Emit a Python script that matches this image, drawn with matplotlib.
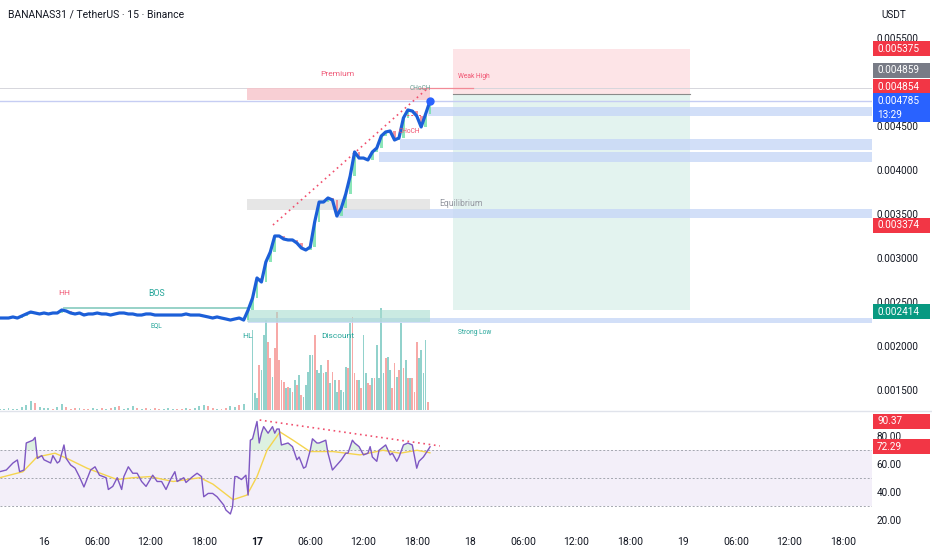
import matplotlib
matplotlib.use('Agg')
import matplotlib.pyplot as plt
import numpy as np
from matplotlib.patches import Rectangle
from matplotlib.lines import Line2D
from matplotlib.transforms import IdentityTransform

plt.rcParams['font.family'] = ['Roboto', 'DejaVu Sans']

# ---- data (time in hours from 16th 00:00) ----
close = [0.002318, 0.002318, 0.002318, 0.002330, 0.002318, 0.002341, 0.002364, 0.002386,
         0.002375, 0.002364, 0.002375, 0.002364, 0.002375, 0.002375, 0.002409, 0.002398,
         0.002375, 0.002364, 0.002375, 0.002352, 0.002364, 0.002364, 0.002375, 0.002364,
         0.002364, 0.002352, 0.002364, 0.002375, 0.002375, 0.002364, 0.002364, 0.002352,
         0.002352, 0.002364, 0.002364, 0.002352, 0.002352, 0.002352, 0.002352, 0.002352,
         0.002352, 0.002352, 0.002364, 0.002352, 0.002352, 0.002352, 0.002341, 0.002330,
         0.002318, 0.002330, 0.002318, 0.002307, 0.002295, 0.002307, 0.002318, 0.002295,
         0.002409, 0.002545, 0.002773, 0.002727, 0.002955, 0.003068, 0.003250, 0.003250,
         0.003216, 0.003205, 0.003205, 0.003170, 0.003114, 0.003091, 0.003125, 0.003409,
         0.003636, 0.003636, 0.003682, 0.003659, 0.003477, 0.003568, 0.003727, 0.003932,
         0.004205, 0.004136, 0.004136, 0.004114, 0.004205, 0.004250, 0.004386, 0.004432,
         0.004443, 0.004341, 0.004364, 0.004591, 0.004682, 0.004670, 0.004614, 0.004489,
         0.004636, 0.004785]
price_start, price_step = -5.0, 0.5

vol_flat = [1, 1, 2, 1, 1, 3, 5, 9, 7, 3, 2, 2, 1, 3, 6, 3, 1, 2, 2, 1, 1, 2, 1, 2, 1, 2, 3, 4,
            1, 2, 4, 2, 1, 2, 1, 2, 1, 1, 2, 1, 1, 1, 2, 1, 2, 4, 5, 4, 2, 1, 1, 2, 4, 3, 5, 6]
vol_flat_dir = "ggggggggrgggrggrrrgrrggrgrgrgggrgrgrrgggrrgrgggrrgrrggrg"
vol_pump = [80, 17, 12, 45, 40, 75, 90, 68, 52, 33,
            62, 98, 50, 30, 28, 22, 23, 22, 18, 30,
            25, 35, 15, 13, 25, 38, 55, 55, 75, 40,
            37, 45, 37, 38, 50, 27, 38, 30, 18, 30,
            20, 18, 43, 42, 87, 93, 37, 30, 30, 22,
            75, 37, 27, 25, 32, 32, 65, 32, 102, 37,
            52, 53, 40, 22, 47, 33, 40, 87, 42, 50,
            32, 32, 32, 18, 68, 52, 60, 37, 70, 8]
vol_pump_dir = ("gggrgggrrg" "rrrrrgrgrg" "rgrgggggrg" "ggrgrgrggr"
                "gggrgrrrgr" "ggrrgrgggg" "rggrrgrgrg" "rgrrrggggr")
vol_pump_start = 23.5

rsi_t = [-5.0, -4.25, -3.5, -3.0, -2.75, -2.25, -2.0, -1.25, -1.0, -0.75, -0.25, 0.0, 0.75, 1.0,
         1.5, 1.75, 2.25, 2.5, 3.0, 3.5, 4.0, 4.5, 5.25, 5.75, 6.25, 7.0, 7.25, 7.75, 8.25, 8.75,
         9.0, 9.5, 10.0, 10.5, 11.0, 11.5, 12.25, 12.75, 13.25, 13.75, 14.25, 14.75, 15.0, 15.75,
         16.0, 16.75, 17.25, 17.75, 18.0, 18.5, 19.0, 19.5, 20.25, 20.5, 21.0, 21.25, 21.5, 21.75,
         22.25, 22.75, 23.0, 23.25, 23.5, 24.0, 24.25, 24.5, 24.75, 25.25, 25.75, 26.0, 26.25,
         26.5, 26.75, 27.5, 28.0, 28.5, 28.75, 29.25, 29.5, 30.0, 30.25, 30.75, 31.0, 31.75, 32.0,
         32.5, 33.0, 33.5, 34.0, 34.25, 34.75, 35.0, 35.5, 36.0, 36.5, 36.75, 37.0, 37.5, 37.75,
         38.5, 39.0, 39.25, 39.75, 40.0, 40.5, 41.0, 41.5, 42.0, 42.25, 42.75, 43.25, 43.5]
rsi = [54.5, 55.7, 60.7, 62.9, 54.5, 55.7, 75, 77, 79, 64, 66, 63, 60.7, 66,
       60.7, 61.9, 73.6, 64, 59.3, 57, 50.8, 43.6, 55.7, 58, 52, 50.2, 41.8, 44, 50.2, 41.8,
       51, 58, 53.4, 53.4, 47.5, 44, 52, 47.5, 47.5, 41.8, 48.9, 54.5, 47.5, 50.2,
       46.8, 51, 53.4, 51, 36.6, 39, 39, 36.6, 30.7, 27.1, 24.3, 29.6, 51, 51,
       48.9, 52, 37.8, 77, 78, 90.37, 75, 82, 86.7, 82, 86.7, 82, 85,
       85, 73.6, 75, 72.4, 63, 65, 57, 58, 69.8, 78, 75, 75, 77, 67.7,
       55.7, 59.3, 62.9, 67.7, 67.7, 77, 75, 72.4, 66.5, 67.7, 72.4, 65, 61.9, 69.8,
       73.6, 66.5, 67.7, 61.9, 65, 73.6, 75, 73.6, 57, 61.9, 65, 69.8, 72.29]
rsi_ma_t = [-5.0, -2.37, -0.79, 1.24, 2.59, 4.85, 8.23, 10.03, 11.94, 14.54, 17.58, 19.04,
            21.3, 22.87, 24.0, 25.13, 26.59, 28.06, 29.97, 32.56, 35.6, 38.2, 40.11, 42.03, 43.49]
rsi_ma = [50.2, 54.5, 65, 67.7, 64, 57, 48.9, 50.2, 51, 47.5, 50.2, 45.6,
          34.5, 37.8, 51, 69.8, 82.9, 77, 68.9, 68.9, 66.5, 69.8, 67.7, 69.8, 68]

# zones: (low, high)
premium = (0.004795, 0.004932)
equilibrium = (0.003545, 0.003671)
discount = (0.002273, 0.002409)
zone_span = (22.9, 43.5)
ob_lo = [0.004614, 0.004227, 0.004091, 0.003455, 0.002261]
ob_hi = [0.004716, 0.004352, 0.004205, 0.003557, 0.002318]
ob_start = [43.3, 40.1, 37.8, 33.0, 23.0]
weak_high = 0.004932
bos_level, bos_span = 0.00243, (2.25, 23.0)
trend_t, trend_p = [25.8, 43.27], [0.003375, 0.004932]
rsi_div_t, rsi_div_v = [24.3, 44.6], [91.4, 72.9]
pos_span = (46.1, 72.8)
pos_entry, pos_tp, pos_sl = 0.004859, 0.005375, 0.002414
last_price = 0.004785

tick_hours = [0, 6, 12, 18, 24, 30, 36, 42, 48, 54, 60, 66, 72, 78, 84, 90]
tick_labels = ['16', '06:00', '12:00', '18:00', '17', '06:00', '12:00', '18:00',
               '18', '06:00', '12:00', '18:00', '19', '06:00', '12:00', '18:00']
price_ticks = [0.0055, 0.0045, 0.0040, 0.0035, 0.0030, 0.0025, 0.0020, 0.0015]

GREEN_TXT = '#26a69a'
RED_TXT = '#f0506e'
TXT = '#131722'

# ---- figure ----
W, H = 932, 550
fig = plt.figure(figsize=(W / 100, H / 100), dpi=100)
ax = fig.add_axes([0, 1 - 410 / H, 872 / W, 410 / H])
vax = ax.twinx()
axr = fig.add_axes([0, 1 - 527 / H, 872 / W, 115 / H], sharex=ax)

ax.set_zorder(vax.get_zorder() + 1)
ax.patch.set_visible(False)
xmin, xmax = -4.958, 93.3
ax.set_xlim(xmin, xmax)
ax.set_ylim(0.0012727, 0.0059318)
vax.set_ylim(0, 410)
axr.set_ylim(15.0, 97.14)

for a in (ax, vax, axr):
    for s in a.spines.values():
        s.set_visible(False)
vax.yaxis.set_visible(False)

# volume
vt_flat = price_start + price_step * np.arange(len(vol_flat))
vt_pump = vol_pump_start + 0.25 * np.arange(len(vol_pump))
cmap = {'g': '#92d2cc', 'r': '#f7a9a7'}
vax.bar(vt_flat, vol_flat, width=0.22, color=[cmap[c] for c in vol_flat_dir], linewidth=0)
vax.bar(vt_pump, vol_pump, width=0.2, color=[cmap[c] for c in vol_pump_dir], linewidth=0)

# long position box
ax.fill_between(pos_span, pos_entry, pos_tp, color='#fde4e7', lw=0, zorder=0.5)
ax.fill_between(pos_span, pos_sl, pos_entry, color='#e3f3ef', lw=0, zorder=0.5)
ax.plot(pos_span, [pos_entry] * 2, color='#8a8a8a', lw=0.8, zorder=1)

# horizontal levels
ax.axhline(weak_high, color='#d6d6dc', lw=0.7, zorder=0.6)
ax.axhline(last_price, color='#c6cdf3', lw=1.0, zorder=0.6)
ax.plot([42.2, 48.3], [weak_high] * 2, color='#f28a97', lw=0.9, zorder=1)

# order blocks
for lo, hi, st in zip(ob_lo, ob_hi, ob_start):
    ax.fill_between([st, xmax], lo, hi, color='#c7d7f7', alpha=0.8, lw=0, zorder=0.7)

# premium / equilibrium / discount
ax.fill_between(zone_span, *premium, color='#f7c3ca', alpha=0.8, lw=0, zorder=0.8)
ax.fill_between(zone_span, *equilibrium, color='#dedede', alpha=0.75, lw=0, zorder=0.8)
ax.fill_between(zone_span, *discount, color='#a8dccf', alpha=0.6, lw=0, zorder=0.8)

# BOS line
ax.plot(bos_span, [bos_level] * 2, color='#8fcfc4', lw=1.3, zorder=1)

# candles + price line
t = price_start + price_step * np.arange(len(close))
c = np.array(close)
o = np.r_[c[0], c[:-1]]
up = c >= o
ax.bar(t, np.abs(c - o), bottom=np.minimum(o, c), width=0.3,
       color=np.where(up, '#6fe0a6', '#f27a86'), alpha=0.8, lw=0, zorder=1.5)
ax.plot(t, close, color='#1c5fd8', lw=2.3, zorder=3, solid_joinstyle='round')
ax.plot(t[-1], close[-1], 'o', color='#2962ff', ms=5, zorder=4)

# trend line
ax.plot(trend_t, trend_p, color=RED_TXT, lw=1.2, ls=(0, (1, 2.2)), zorder=2)
ax.plot([40.5, 42.6], [0.00463] * 2, color=RED_TXT, lw=0.7, ls=(0, (2, 2)), zorder=2)

# labels
def lab(x, y, s, col, fs, ha='center'):
    ax.text(x, y, s, color=col, fontsize=fs, ha=ha, va='center', zorder=5)

lab(33.1, 0.005091, 'Premium', '#ef5a78', 6.0)
lab(42.4, 0.004925, 'CHoCH', '#6b9e93', 4.8)
lab(46.6, 0.005057, 'Weak High', RED_TXT, 4.8, ha='left')
lab(44.5, 0.003614, 'Equilibrium', '#9598a1', 6.2, ha='left')
lab(46.6, 0.002159, 'Strong Low', GREEN_TXT, 4.8, ha='left')
lab(41.2, 0.004443, 'CHoCH', RED_TXT, 4.8)
lab(2.25, 0.002602, 'HH', RED_TXT, 6.0)
lab(12.7, 0.002602, 'BOS', GREEN_TXT, 6.3)
lab(12.7, 0.002227, 'EQL', GREEN_TXT, 4.8)
lab(22.9, 0.002114, 'HL', GREEN_TXT, 6.0)
lab(33.1, 0.002114, 'Discount', GREEN_TXT, 6.0)

# price axis
ax.yaxis.tick_right()
ax.set_yticks(price_ticks)
ax.set_yticklabels(['%.6f' % p for p in price_ticks])
ax.tick_params(axis='y', length=0, pad=3.5, labelsize=7.2, labelcolor=TXT)
ax.tick_params(axis='x', bottom=False, labelbottom=False)

# RSI pane
axr.axhspan(30, 70, color='#7e57c2', alpha=0.09, lw=0)
for lvl in (70, 50, 30):
    axr.axhline(lvl, color='#a3a6af', lw=0.7, ls=(0, (2, 2)))
rv = np.array(rsi)
axr.fill_between(rsi_t, 70, rv, where=rv > 70, interpolate=True, color='#8fd19e', alpha=0.3, lw=0)
axr.plot(rsi_ma_t, rsi_ma, color='#f5d44e', lw=1.0)
axr.plot(rsi_t, rsi, color='#7e57c2', lw=1.0)
axr.plot(rsi_div_t, rsi_div_v, color=RED_TXT, lw=1.2, ls=(0, (1, 2.2)))
axr.yaxis.tick_right()
axr.set_yticks([20, 40, 60, 80])
axr.set_yticklabels(['20.00', '40.00', '60.00', '80.00'])
axr.tick_params(axis='y', length=0, pad=3.5, labelsize=7.2, labelcolor=TXT)
axr.set_xticks(tick_hours)
axr.set_xticklabels(tick_labels)
axr.tick_params(axis='x', length=0, pad=7, labelsize=7.5, labelcolor=TXT)
for tl, s in zip(axr.get_xticklabels(), tick_labels):
    if s == '17':
        tl.set_fontweight('bold')

# pane separator
fig.add_artist(Line2D([0, 1], [1 - 411 / H] * 2, transform=fig.transFigure, color='#e0e3eb', lw=1))

# header
fig.text(8 / W, 1 - 15 / H, 'BANANAS31 / TetherUS · 15 · Binance', fontsize=7.5, color=TXT, va='center')
fig.text(881 / W, 1 - 15 / H, 'USDT', fontsize=7.2, color=TXT, va='center')

# price tags on the scale
def tag(axis, val, lines, color, shift=0, h=15):
    x0 = axis.transAxes.transform((1, 0))[0]
    yd = axis.transData.transform((0, val))[1] + shift
    top = yd + h / 2
    bottom = yd - h / 2 - 14 * (len(lines) - 1)
    fig.add_artist(Rectangle((x0 + 1, bottom), 57, top - bottom, transform=IdentityTransform(),
                             facecolor=color, edgecolor='none', zorder=5))
    for k, s in enumerate(lines):
        fig.text(x0 + 5, yd - 14 * k, s, transform=IdentityTransform(), color='white',
                 fontsize=7.2, va='center', ha='left', zorder=6)

tag(ax, pos_tp, ['%.6f' % pos_tp], '#f23645')
tag(ax, pos_entry, ['%.6f' % pos_entry], '#787b86', shift=24)
tag(ax, 0.004854, ['0.004854'], '#f23645', shift=8)
tag(ax, last_price, ['%.6f' % last_price, '13:29'], '#2962ff')
tag(ax, 0.003374, ['0.003374'], '#f23645')
tag(ax, pos_sl, ['%.6f' % pos_sl], '#089981', shift=-2)
tag(axr, max(rsi), ['%.2f' % max(rsi)], '#f23645')
tag(axr, rsi[-1], ['%.2f' % rsi[-1]], '#f23645')

fig.savefig('out.png', dpi=100, facecolor='white')
